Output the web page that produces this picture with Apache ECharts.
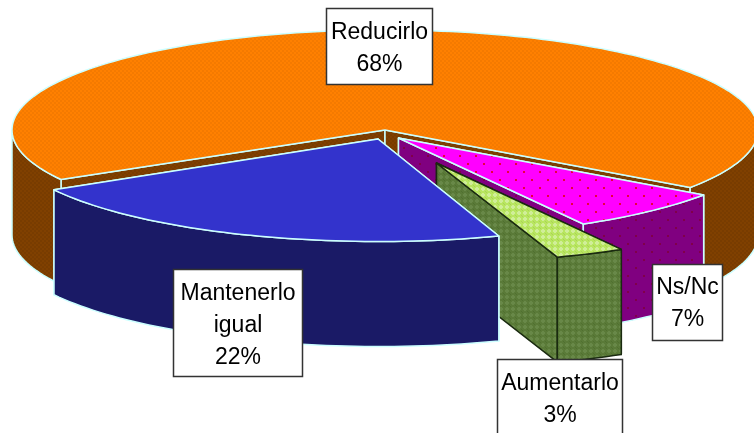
<!DOCTYPE html>
<html>
<head>
<meta charset="utf-8">
<style>html,body{margin:0;padding:0;background:#fff}#c{width:754px;height:433px}</style>
<script src="https://cdn.jsdelivr.net/npm/echarts@6/dist/echarts.min.js"></script>
</head>
<body>
<div id="c"></div>
<script>
// Data, clockwise from the left edge of the big slice
const categories = ['Reducirlo', 'Ns/Nc', 'Aumentarlo', 'Mantenerlo\nigual'];
const values = [68, 7, 3, 22];

// Layout of the tilted pie (one apex and vertical radius per exploded slice)
const RX = 373, DEPTH = 105, START = 150.3;
const radiiY = [100, 99, 99.5, 102.5];
const apexes = [[385, 130], [398.5, 138], [436.5, 163], [378, 139]];
const labelBoxes = [[326.5, 8.5, 106, 76], [652.5, 264.5, 70, 76], [497.5, 359.5, 125, 80], [173.5, 269.5, 129, 107]];
const labelMid = [49, 304, 400, 326];

function tex(size, draw) {
  const c = document.createElement('canvas');
  c.width = c.height = size;
  draw(c.getContext('2d'));
  return { image: c, repeat: 'repeat' };
}
function check(base, alt) {
  return tex(4, g => {
    g.fillStyle = base; g.fillRect(0, 0, 4, 4);
    g.fillStyle = alt; g.fillRect(0, 0, 2, 2); g.fillRect(2, 2, 2, 2);
  });
}
function dots(base, dot) {
  return tex(16, g => {
    g.fillStyle = base; g.fillRect(0, 0, 16, 16);
    g.fillStyle = dot;
    g.fillRect(3, 3, 2, 2); g.fillRect(11, 11, 2, 2);
  });
}
function lattice(base, light, dark) {
  return tex(6, g => {
    g.fillStyle = base; g.fillRect(0, 0, 6, 6);
    g.fillStyle = light;
    g.fillRect(2, 1, 2, 4); g.fillRect(1, 2, 4, 2);
    g.fillStyle = dark;
    g.fillRect(0, 0, 1, 1); g.fillRect(5, 5, 1, 1);
  });
}
const looks = [
  { top: check('#ff8000', '#f47a00'), side: check('#804000', '#783c00'), line: '#ccffff' },
  { top: dots('#ff00ff', '#e8003c'), side: dots('#800080', '#80004a'), line: '#ccffff' },
  { top: lattice('#b8e660', '#d0ee98', '#accf58'), side: lattice('#5a7a38', '#688848', '#507030'), line: '#1a2a10' },
  { top: { color: '#3333cc' }, side: { color: '#1a1a66' }, line: '#ccffff' }
];
const fillOf = f => (f.image ? f : f.color);

const total = values.reduce((a, b) => a + b, 0);
const rad = d => d * Math.PI / 180;
const down = p => [p[0], p[1] + DEPTH];

function renderItem(params) {
  const i = params.dataIndex;
  let from = START;
  for (let k = 0; k < i; k++) from += values[k] / total * 360;
  const to = from + values[i] / total * 360;
  const c = apexes[i], look = looks[i], ry = radiiY[i];
  const rimPoint = deg => [c[0] + RX * Math.cos(rad(deg)), c[1] + ry * Math.sin(rad(deg))];
  const arc = (a, b) => {
    const pts = [];
    const n = Math.max(2, Math.ceil((b - a) / 1.5));
    for (let j = 0; j <= n; j++) pts.push(rimPoint(a + (b - a) * j / n));
    return pts;
  };
  const base = 10 * (i + 1);
  const kids = [];
  const poly = (points, fill, z) => kids.push({
    type: 'polygon', z2: base + z, shape: { points },
    style: { fill, stroke: look.line, lineWidth: 1.5, lineJoin: 'round' }
  });
  const sideFill = fillOf(look.side);
  // cut faces
  const p0 = rimPoint(from), p1 = rimPoint(to);
  poly([c, p0, down(p0), down(c)], sideFill, 0);
  poly([c, p1, down(p1), down(c)], sideFill, 1);
  // outer wall: only the parts of the rim that face the viewer
  for (let k = 0; k < 2; k++) {
    const a = Math.max(from, k * 360), b = Math.min(to, k * 360 + 180);
    if (b > a) {
      const rim = arc(a, b);
      poly(rim.concat(rim.slice().reverse().map(down)), sideFill, 2);
    }
  }
  // top face
  poly([c].concat(arc(from, to)), fillOf(look.top), 3);
  // label box
  const box = labelBoxes[i];
  kids.push({
    type: 'rect', z2: 200, shape: { x: box[0], y: box[1], width: box[2], height: box[3] },
    style: { fill: '#fff', stroke: '#333', lineWidth: 1.5 }
  });
  kids.push({
    type: 'text', z2: 201,
    style: {
      x: box[0] + box[2] / 2, y: labelMid[i],
      text: categories[i] + '\n' + values[i] + '%',
      fill: '#000', align: 'center', verticalAlign: 'middle',
      font: '23px "Liberation Sans", Arial, sans-serif', lineHeight: 32
    }
  });
  return { type: 'group', children: kids };
}

const chart = echarts.init(document.getElementById('c'), null, { renderer: 'canvas' });
chart.setOption({
  animation: false,
  backgroundColor: '#fff',
  series: [{
    type: 'custom',
    coordinateSystem: 'none',
    clip: false,
    silent: true,
    renderItem,
    data: values.map((v, i) => ({ name: categories[i], value: v }))
  }]
});
</script>
</body>
</html>
